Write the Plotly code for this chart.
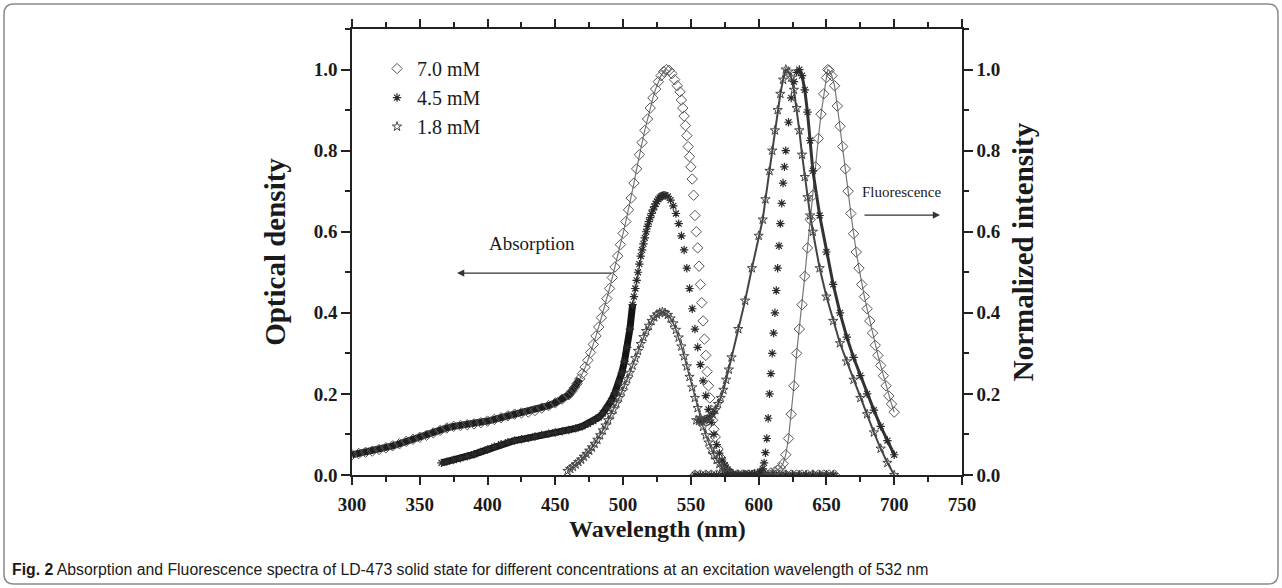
import plotly.graph_objects as go

# ---------------- data ----------------
# Absorption, 7.0 mM (diamonds)
abs70_wl = [300,305,310,315,320,325,330,335,340,345,350,355,360,365,370,375,380,385,390,395,
            400,405,410,415,420,425,430,435,440,445,450,455,460,
            462,464,466,468,470,472,474,476,478,480,482,484,486,488,490,492,494,496,498,500,
            502,504,506,508,510,512,514,516,518,520,522,524,526,528,530,532,
            534,536,538,540,542,
            543,544,545,546,547,548,549,550,551,552,553,554,555,556,557,558,559,560,561,562,
            563,564,565,566,567,568,
            570,572,574,576,578,580,
            584,588,592,596,600,604,608,612,616,620,624,628,632,636,640,644,648,652,656]
abs70_od = [0.050,0.053,0.056,0.059,0.063,0.067,0.072,0.077,0.083,0.088,
            0.093,0.098,0.104,0.110,0.116,0.120,0.122,0.124,0.126,0.129,
            0.133,0.137,0.141,0.146,0.150,0.153,0.155,0.159,0.165,0.171,
            0.178,0.187,0.198,
            0.206,0.215,0.225,0.237,0.250,0.266,0.283,0.302,0.322,0.343,
            0.365,0.388,0.411,0.435,0.460,0.487,0.513,0.540,0.568,0.596,
            0.625,0.654,0.683,0.720,0.755,0.790,0.820,0.850,0.878,0.905,
            0.930,0.952,0.970,0.985,0.995,1.000,
            0.998,0.990,0.975,0.960,0.945,
            0.925,0.905,0.885,0.862,0.837,0.810,0.785,0.760,0.730,0.690,
            0.640,0.600,0.560,0.515,0.470,0.425,0.380,0.335,0.295,0.255,
            0.220,0.190,0.160,0.135,0.113,0.094,
            0.064,0.042,0.026,0.015,0.008,0.003,
            0.0,0.0,0.0,0.0,0.0,0.0,0.0,0.0,0.0,0.0,0.0,0.0,0.0,0.0,0.0,0.0,0.0,0.0,0.0]

# Absorption, 4.5 mM (asterisks)
abs45_wl = [366,370,375,380,385,390,395,400,405,410,415,420,425,430,435,440,445,450,455,460,465,470,
            474,478,482,485,488,491,494,497,499,501,503,505,507,
            508,509,510,511,512,513,514,515,516,517,518,519,520,521,522,523,524,525,526,527,
            528,529,530,531,
            533,535,537,539,541,543,545,547,549,551,553,555,557,559,561,563,565,567,569,571,
            573,575,577,579,581,
            585,590,595,600,605,610,615,620,625,630,635,640,645,650,655]
abs45_od = [0.030,0.033,0.037,0.041,0.046,0.051,0.057,0.063,0.070,0.076,0.081,0.085,0.088,0.091,
            0.095,0.099,0.102,0.105,0.108,0.111,0.115,0.120,
            0.126,0.133,0.142,0.152,0.165,0.182,0.203,0.230,0.252,0.280,0.315,0.360,0.420,
            0.440,0.460,0.480,0.500,0.520,0.540,0.555,0.570,0.585,0.600,0.613,0.625,0.635,0.645,
            0.654,0.662,0.669,0.675,0.680,0.684,0.687,0.689,0.690,0.690,
            0.687,0.678,0.664,0.645,0.620,0.590,0.555,0.510,0.460,0.410,0.360,0.315,0.272,0.232,
            0.196,0.162,0.130,0.100,0.075,0.054,0.037,0.024,0.014,0.007,0.003,
            0.0,0.0,0.0,0.0,0.0,0.0,0.0,0.0,0.0,0.0,0.0,0.0,0.0,0.0,0.0]

# Absorption, 1.8 mM (stars)
abs18_wl = [459,461,463,465,467,469,471,473,475,477,479,481,483,485,487,489,491,493,495,497,
            499,501,503,505,507,509,511,513,515,517,519,521,523,525,527,529,531,533,535,537,
            539,541,543,545,547,549,551,553,555,557,559,561,563,565,567,569,571,573,575,577,
            579,581,
            585,590,595,600,605,610,615,620,625,630,635,640,645,650,655]
abs18_od = [0.010,0.015,0.020,0.026,0.032,0.038,0.045,0.052,0.060,0.068,
            0.077,0.087,0.098,0.110,0.122,0.135,0.148,0.162,0.176,0.190,
            0.205,0.220,0.236,0.252,0.270,0.288,0.306,0.323,0.340,0.355,
            0.368,0.380,0.389,0.396,0.400,0.402,0.400,0.395,0.386,0.374,
            0.358,0.339,0.317,0.293,0.268,0.242,0.216,0.190,0.165,0.141,
            0.119,0.098,0.080,0.063,0.049,0.037,0.027,0.019,0.012,0.007,
            0.003,0.001,
            0.0,0.0,0.0,0.0,0.0,0.0,0.0,0.0,0.0,0.0,0.0,0.0,0.0,0.0,0.0]

# Fluorescence, 7.0 mM (diamonds)
fl70_wl = [553,557,561,565,569,573,577,581,585,589,593,597,601,605,609,
           612,614,616,618,620,622,624,626,628,630,632,634,636,638,640,642,644,646,648,650,
           651,
           652,654,656,658,660,662,664,666,668,670,672,674,676,678,680,682,684,686,688,690,
           692,694,696,698,700]
fl70_in = [0.0,0.0,0.0,0.0,0.0,0.0,0.0,0.0,0.0,0.0,0.0,0.001,0.002,0.003,0.005,
           0.008,0.012,0.018,0.028,0.050,0.090,0.150,0.220,0.300,0.360,0.420,0.490,0.560,0.630,
           0.690,0.760,0.830,0.890,0.940,0.980,
           1.000,
           0.998,0.985,0.960,0.910,0.860,0.810,0.755,0.700,0.645,0.595,0.550,0.510,0.470,0.440,
           0.410,0.380,0.350,0.320,0.295,0.270,0.245,0.220,0.195,0.175,0.155]

# Fluorescence, 4.5 mM (asterisks)
fl45_wl = [553,557,561,565,569,573,577,581,585,589,593,597,601,
           603,604,605,606,607,608,609,610,611,612,613,614,615,616,617,618,619,620,
           622,624,626,628,630,632,634,636,638,640,
           645,650,655,660,665,670,675,680,685,690,695,700]
fl45_in = [0.0,0.0,0.0,0.0,0.0,0.0,0.0,0.0,0.0,0.001,0.002,0.004,0.008,
           0.015,0.030,0.055,0.090,0.140,0.200,0.250,0.300,0.350,0.400,0.455,0.510,0.565,0.620,
           0.670,0.720,0.760,0.800,
           0.870,0.930,0.970,0.993,1.000,0.985,0.950,0.895,0.825,0.750,
           0.640,0.550,0.470,0.400,0.340,0.290,0.245,0.200,0.160,0.120,0.085,0.050]

# Fluorescence, 1.8 mM (stars)
fl18_wl = [554,556,558,560,562,564,566,568,570,572,574,576,578,580,
           585,590,595,600,603,605,608,610,612,614,616,618,620,
           622,624,626,628,630,632,634,636,638,640,
           645,650,655,660,665,670,675,680,685,690,695,700]
fl18_in = [0.135,0.133,0.133,0.135,0.138,0.143,0.150,0.160,0.175,0.190,0.210,0.235,0.260,0.290,
           0.360,0.430,0.510,0.590,0.630,0.680,0.750,0.800,0.850,0.900,0.940,0.975,1.000,
           0.995,0.980,0.950,0.905,0.850,0.790,0.735,0.685,0.640,0.600,
           0.510,0.440,0.380,0.325,0.280,0.235,0.190,0.150,0.105,0.065,0.030,0.000]

series_names = ["7.0 mM", "4.5 mM", "1.8 mM"]
x_ticks = [300, 350, 400, 450, 500, 550, 600, 650, 700, 750]
y_ticks = [0.0, 0.2, 0.4, 0.6, 0.8, 1.0]

for a, b in [(abs70_wl, abs70_od), (abs45_wl, abs45_od), (abs18_wl, abs18_od),
             (fl70_wl, fl70_in), (fl45_wl, fl45_in), (fl18_wl, fl18_in)]:
    assert len(a) == len(b), (len(a), len(b))

# ---------------- styling ----------------
SERIF = "Liberation Serif"
sym = {"7.0 mM": dict(symbol="diamond-open", size=8, color="#555555", line=dict(width=1, color="#555555")),
       "4.5 mM": dict(symbol="asterisk-open", size=7, color="#2a2a2a", line=dict(width=1.2, color="#2a2a2a")),
       "1.8 mM": dict(symbol="star-open", size=7, color="#444444", line=dict(width=1, color="#444444"))}


def sub(xs, ys, lo, hi):
    px = [x for x in xs if lo <= x <= hi]
    py = [y for x, y in zip(xs, ys) if lo <= x <= hi]
    return px, py


fig = go.Figure()

# connecting bands (drawn underneath the markers)
bands = [
    (abs70_wl, abs70_od, 300, 468, 7, "#1e1e1e"),
    (abs70_wl, abs70_od, 468, 533, 1.2, "#777777"),
    (abs70_wl, abs70_od, 580, 656, 2, "#444444"),
    (abs45_wl, abs45_od, 366, 507, 7, "#141414"),
    (abs45_wl, abs45_od, 507, 533, 1.2, "#555555"),
    (abs18_wl, abs18_od, 459, 581, 1.5, "#555555"),
    (fl70_wl, fl70_in, 553, 612, 2.5, "#333333"),
    (fl70_wl, fl70_in, 612, 700, 1.2, "#777777"),
    (fl45_wl, fl45_in, 628, 700, 3, "#333333"),
    (fl18_wl, fl18_in, 554, 568, 5, "#222222"),
    (fl18_wl, fl18_in, 568, 700, 2, "#444444"),
]
for xs, ys, lo, hi, w, c in bands:
    bx, by = sub(xs, ys, lo, hi)
    fig.add_trace(go.Scatter(x=bx, y=by, mode="lines", line=dict(width=w, color=c),
                             showlegend=False, hoverinfo="skip"))

for name, xs, ys in [("7.0 mM", abs70_wl, abs70_od), ("4.5 mM", abs45_wl, abs45_od),
                     ("1.8 mM", abs18_wl, abs18_od)]:
    fig.add_trace(go.Scatter(x=xs, y=ys, mode="markers", name=name, marker=sym[name],
                             showlegend=True))

for name, xs, ys in [("7.0 mM", fl70_wl, fl70_in), ("4.5 mM", fl45_wl, fl45_in),
                     ("1.8 mM", fl18_wl, fl18_in)]:
    fig.add_trace(go.Scatter(x=xs, y=ys, mode="markers", name=name, marker=sym[name],
                             showlegend=False, yaxis="y2"))

tickfont = dict(family=SERIF, size=19, color="#1a1a1a", weight="bold")
xtitlefont = dict(family=SERIF, size=24, color="#1a1a1a", weight="bold")
ytitlefont = dict(family=SERIF, size=29, color="#1a1a1a", weight="bold")

common_y = dict(range=[0, 1.1], tickvals=y_ticks, tickformat=".1f", ticks="outside", ticklen=9,
                tickwidth=1.5, tickcolor="#222", showline=True, linewidth=1.5, linecolor="#222",
                showgrid=False, zeroline=False, tickfont=tickfont,
                minor=dict(dtick=0.1, tick0=0, ticks="outside", ticklen=5, tickwidth=1.5,
                           tickcolor="#222", showgrid=False))

fig.update_layout(
    width=1282, height=588,
    margin=dict(l=352, r=320, t=29, b=113),
    plot_bgcolor="white", paper_bgcolor="white",
    font=dict(family=SERIF, color="#1a1a1a"),
    xaxis=dict(range=[300, 750], tickvals=x_ticks, ticks="outside", ticklen=8, tickwidth=1.5,
               tickcolor="#222", showline=True, linewidth=1.5, linecolor="#222", mirror="ticks",
               showgrid=False, zeroline=False, tickfont=tickfont, ticklabelstandoff=3,
               minor=dict(dtick=25, tick0=300, ticks="outside", ticklen=5, tickwidth=1.5,
                          tickcolor="#222", showgrid=False)),
    yaxis=dict(**common_y, title=dict(text="Optical density", font=ytitlefont, standoff=20)),
    yaxis2=dict(**common_y, overlaying="y", side="right",
                title=dict(text="Normalized intensity", font=ytitlefont, standoff=13)),
    legend=dict(x=0.041, y=0.955, xanchor="left", yanchor="top", bgcolor="rgba(0,0,0,0)",
                font=dict(family=SERIF, size=20, color="#1a1a1a"), itemwidth=30,
                tracegroupgap=0),
    showlegend=True,
)

# x-axis title (placed as text just under the tick labels)
fig.add_annotation(x=0.5, y=-0.120, xref="paper", yref="paper", xanchor="center", yanchor="middle",
                   text="Wavelength (nm)", showarrow=False, font=xtitlefont)

# annotations: labels and arrows
fig.add_annotation(x=433, y=0.572, xref="x", yref="y", text="Absorption", showarrow=False,
                   font=dict(family=SERIF, size=19, color="#1a1a1a"))
fig.add_annotation(x=377.5, y=0.498, ax=492.5, ay=0.498, xref="x", yref="y", axref="x", ayref="y",
                   text="", showarrow=True, arrowhead=2, arrowsize=1.2, arrowwidth=1.2,
                   arrowcolor="#333")
fig.add_annotation(x=705, y=0.698, xref="x", yref="y", text="Fluorescence", showarrow=False,
                   font=dict(family=SERIF, size=15, color="#1a1a1a"))
fig.add_annotation(x=733.8, y=0.641, ax=677, ay=0.641, xref="x", yref="y", axref="x", ayref="y",
                   text="", showarrow=True, arrowhead=2, arrowsize=1.2, arrowwidth=1.2,
                   arrowcolor="#333")

# caption
fig.add_annotation(x=-0.5607, y=-0.213, xref="paper", yref="paper", xanchor="left", yanchor="middle",
                   text="<b>Fig. 2</b> Absorption and Fluorescence spectra of LD-473 solid state for "
                        "different concentrations at an excitation wavelength of 532 nm",
                   showarrow=False, font=dict(family="Liberation Sans", size=15.8, color="#1a1a1a"))

# outer rounded frame
x0, x1, y0, y1 = -0.5705, 1.5180, -0.2444, 1.0561
rx, ry = 10 / 610, 10 / 446
path = (f"M {x0+rx},{y1} L {x1-rx},{y1} Q {x1},{y1} {x1},{y1-ry} L {x1},{y0+ry} "
        f"Q {x1},{y0} {x1-rx},{y0} L {x0+rx},{y0} Q {x0},{y0} {x0},{y0+ry} "
        f"L {x0},{y1-ry} Q {x0},{y1} {x0+rx},{y1} Z")
fig.add_shape(type="path", path=path, xref="paper", yref="paper",
              line=dict(color="#8a8a8a", width=1.5))

fig.write_html("out.html")
